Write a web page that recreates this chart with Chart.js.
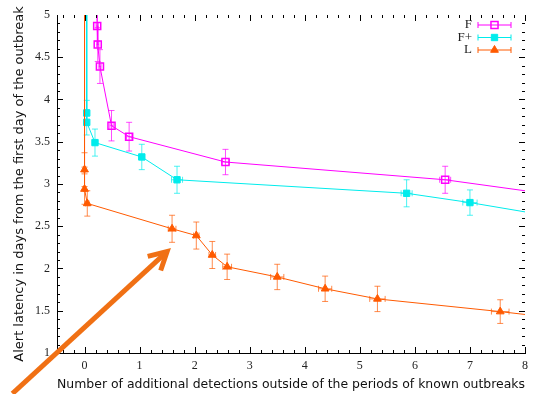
<!DOCTYPE html>
<html>
<head>
<meta charset="utf-8">
<script src="https://cdn.jsdelivr.net/npm/chart.js@4/dist/chart.umd.min.js"></script>
<style>
  html, body { margin: 0; padding: 0; background: #fff; }
</style>
</head>
<body>
<canvas id="chart" width="535" height="394"></canvas>
<script>
// Series F (open squares)
const fX    = [0.22, 0.23, 0.24, 0.28, 0.49, 0.81, 2.56, 6.55, 9.0];
const fY    = [5.6, 4.87, 4.65, 4.39, 3.69, 3.56, 3.26, 3.05, 2.83];
const fYErr = [0.2, 0.18, 0.2, 0.2, 0.18, 0.17, 0.15, 0.16, 0.16];
const fXErr = [0.02, 0.02, 0.02, 0.02, 0.03, 0.05, 0.07, 0.1, 0.1];

// Series F+ (filled squares)
const fpX    = [0.04, 0.04, 0.04, 0.19, 1.04, 1.68, 5.85, 7.0, 9.0];
const fpY    = [5.6, 3.84, 3.73, 3.49, 3.32, 3.05, 2.89, 2.78, 2.56];
const fpYErr = [0.2, 0.15, 0.15, 0.16, 0.15, 0.16, 0.16, 0.15, 0.15];
const fpXErr = [0.01, 0.01, 0.01, 0.03, 0.05, 0.1, 0.1, 0.13, 0.13];

// Series L (filled triangles)
const lX    = [0.0, 0.0, 0.0, 0.05, 1.59, 2.03, 2.32, 2.59, 3.5, 4.37, 5.32, 7.55, 9.0];
const lY    = [5.6, 3.17, 2.94, 2.77, 2.47, 2.39, 2.16, 2.02, 1.9, 1.76, 1.64, 1.49, 1.38];
const lYErr = [2.4, 0.2, 0.18, 0.15, 0.16, 0.16, 0.16, 0.15, 0.15, 0.15, 0.15, 0.14, 0.14];
const lXErr = [0.02, 0.02, 0.02, 0.03, 0.07, 0.05, 0.06, 0.08, 0.12, 0.12, 0.14, 0.16, 0.16];

// Axis ticks
const xTickValues = [0, 1, 2, 3, 4, 5, 6, 7, 8];
const yTickValues = [1, 1.5, 2, 2.5, 3, 3.5, 4, 4.5, 5];

// Annotation arrow (data units): tail -> tip
const arrowFrom = [-1.31, 0.52];
const arrowTo   = [1.5, 2.2];

const COLOR_F  = '#ff00ff';
const COLOR_FP = '#00ecec';
const COLOR_L  = '#ff5a00';

function toPoints(xs, ys) {
    return xs.map((x, i) => ({ x: x, y: ys[i] }));
}

function series(label, xs, ys, color, style, radius, filled, yErr, xErr, order) {
    return {
        label: label,
        data: toPoints(xs, ys),
        showLine: true,
        order: order,
        borderColor: color,
        borderWidth: 1,
        pointStyle: style,
        pointRadius: radius,
        pointBorderColor: color,
        pointBackgroundColor: filled ? color : 'rgba(255,255,255,0)',
        pointBorderWidth: filled ? 1 : 1.5,
        yErr: yErr,
        xErr: xErr
    };
}

// Error bars, drawn under the markers
const errorBarPlugin = {
    id: 'errorBars',
    beforeDatasetsDraw(chart) {
        const ctx = chart.ctx;
        const xs = chart.scales.x, ys = chart.scales.y;
        const area = chart.chartArea;
        ctx.save();
        ctx.beginPath();
        ctx.rect(area.left, area.top, area.right - area.left, area.bottom - area.top);
        ctx.clip();
        chart.data.datasets.forEach(ds => {
            ctx.strokeStyle = ds.borderColor;
            ctx.globalAlpha = 0.7;
            ctx.lineWidth = 1;
            ds.data.forEach((p, i) => {
                const px = xs.getPixelForValue(p.x);
                const py = ys.getPixelForValue(p.y);
                const yTop = ys.getPixelForValue(p.y + ds.yErr[i]);
                const yBot = ys.getPixelForValue(p.y - ds.yErr[i]);
                const xL = xs.getPixelForValue(p.x - ds.xErr[i]);
                const xR = xs.getPixelForValue(p.x + ds.xErr[i]);
                ctx.beginPath();
                ctx.moveTo(px, yTop); ctx.lineTo(px, yBot);
                ctx.moveTo(px - 3, yTop); ctx.lineTo(px + 3, yTop);
                ctx.moveTo(px - 3, yBot); ctx.lineTo(px + 3, yBot);
                ctx.moveTo(xL, py); ctx.lineTo(xR, py);
                ctx.moveTo(xL, py - 3); ctx.lineTo(xL, py + 3);
                ctx.moveTo(xR, py - 3); ctx.lineTo(xR, py + 3);
                ctx.stroke();
            });
        });
        ctx.restore();
    }
};

function drawMarker(ctx, style, x, y, r, color, filled) {
    ctx.beginPath();
    if (style === 'triangle') {
        ctx.moveTo(x, y - r);
        ctx.lineTo(x + r * 0.87, y + r * 0.5);
        ctx.lineTo(x - r * 0.87, y + r * 0.5);
        ctx.closePath();
    } else {
        const s = r * 0.707;
        ctx.rect(x - s, y - s, 2 * s, 2 * s);
    }
    ctx.strokeStyle = color;
    ctx.lineWidth = filled ? 1 : 1.5;
    if (filled) { ctx.fillStyle = color; ctx.fill(); }
    ctx.stroke();
}

// Inward ticks on all four sides, legend and arrow
const framePlugin = {
    id: 'frame',
    afterDraw(chart) {
        const ctx = chart.ctx;
        const xs = chart.scales.x, ys = chart.scales.y;
        const a = chart.chartArea;
        ctx.save();
        ctx.strokeStyle = '#000';
        ctx.lineWidth = 1;
        ctx.beginPath();
        for (let v = -0.4; v <= 8.001; v += 0.2) {
            const major = Math.abs(v - Math.round(v)) < 0.01;
            const len = major ? 6 : 3;
            const px = Math.round(xs.getPixelForValue(v)) + 0.5;
            ctx.moveTo(px, a.bottom); ctx.lineTo(px, a.bottom - len);
            ctx.moveTo(px, a.top); ctx.lineTo(px, a.top + len);
        }
        for (let v = 1.1; v <= 4.95; v += 0.1) {
            const major = Math.abs(v * 2 - Math.round(v * 2)) < 0.01;
            const len = major ? 6 : 3;
            const py = Math.round(ys.getPixelForValue(v)) + 0.5;
            ctx.moveTo(a.left, py); ctx.lineTo(a.left + len, py);
            ctx.moveTo(a.right, py); ctx.lineTo(a.right - len, py);
        }
        ctx.stroke();

        // legend
        ctx.font = "13px 'Liberation Serif', serif";
        ctx.textAlign = 'right';
        ctx.textBaseline = 'middle';
        const styles = [['rect', 5, false], ['rect', 4.5, true], ['triangle', 4.5, true]];
        chart.data.datasets.forEach((ds, i) => {
            const y = a.top + 10 + i * 12.5;
            const x0 = a.right - 47, x1 = a.right - 14;
            ctx.fillStyle = '#222';
            ctx.fillText(ds.label, a.right - 53, y);
            ctx.strokeStyle = ds.borderColor;
            ctx.lineWidth = 1;
            ctx.beginPath();
            ctx.moveTo(x0, y); ctx.lineTo(x1, y);
            ctx.moveTo(x0, y - 3); ctx.lineTo(x0, y + 3);
            ctx.moveTo(x1, y - 3); ctx.lineTo(x1, y + 3);
            ctx.stroke();
            drawMarker(ctx, styles[i][0], (x0 + x1) / 2, y, styles[i][1], ds.borderColor, styles[i][2]);
        });

        // arrow
        const tx = xs.getPixelForValue(arrowFrom[0]), ty = ys.getPixelForValue(arrowFrom[1]);
        const hx = xs.getPixelForValue(arrowTo[0]), hy = ys.getPixelForValue(arrowTo[1]);
        const ang = Math.atan2(hy - ty, hx - tx);
        const head = 20;
        ctx.strokeStyle = '#f07014';
        ctx.lineWidth = 5;
        ctx.lineJoin = 'miter';
        ctx.beginPath();
        ctx.moveTo(tx, ty);
        ctx.lineTo(hx - 2 * Math.cos(ang), hy - 2 * Math.sin(ang));
        ctx.stroke();
        ctx.beginPath();
        ctx.moveTo(hx - head * Math.cos(ang - 0.5), hy - head * Math.sin(ang - 0.5));
        ctx.lineTo(hx, hy);
        ctx.lineTo(hx - head * Math.cos(ang + 0.5), hy - head * Math.sin(ang + 0.5));
        ctx.stroke();
        ctx.restore();
    }
};

const tickFont = { family: "'Liberation Serif', serif", size: 12 };
const titleFont = { family: "'DejaVu Sans', sans-serif", size: 13 };

new Chart(document.getElementById('chart').getContext('2d'), {
    type: 'scatter',
    data: {
        datasets: [
            series('F', fX, fY, COLOR_F, 'rect', 5, false, fYErr, fXErr, 2),
            series('F+', fpX, fpY, COLOR_FP, 'rect', 4.5, true, fpYErr, fpXErr, 1),
            series('L', lX, lY, COLOR_L, 'triangle', 4.5, true, lYErr, lXErr, 0)
        ]
    },
    options: {
        responsive: false,
        animation: false,
        layout: { padding: { top: 15, right: 10, left: 0, bottom: 0 } },
        plugins: {
            legend: { display: false },
            tooltip: { enabled: false }
        },
        scales: {
            x: {
                type: 'linear',
                min: -0.5,
                max: 8,
                afterBuildTicks: scale => { scale.ticks = xTickValues.map(v => ({ value: v })); },
                afterFit: scale => { scale.height = 41; },
                grid: { display: false, drawTicks: false },
                border: { display: true, color: '#000', width: 1 },
                ticks: { font: tickFont, color: '#222', padding: 6, maxRotation: 0,
                         callback: v => String(v) },
                title: { display: true, text: 'Number of additional detections outside of the periods of known outbreaks',
                         font: titleFont, color: '#111', padding: { top: 0, bottom: 2 } }
            },
            y: {
                type: 'linear',
                min: 1,
                max: 5,
                afterBuildTicks: scale => { scale.ticks = yTickValues.map(v => ({ value: v })); },
                afterFit: scale => { scale.width = 57; },
                grid: { display: false, drawTicks: false },
                border: { display: true, color: '#000', width: 1 },
                ticks: { font: tickFont, color: '#222', padding: 7,
                         callback: v => String(v) },
                title: { display: true, text: 'Alert latency in days from the first day of the outbreak',
                         font: titleFont, color: '#111', padding: { top: 12, bottom: 0 } }
            }
        }
    },
    plugins: [errorBarPlugin, framePlugin]
});
</script>
</body>
</html>
